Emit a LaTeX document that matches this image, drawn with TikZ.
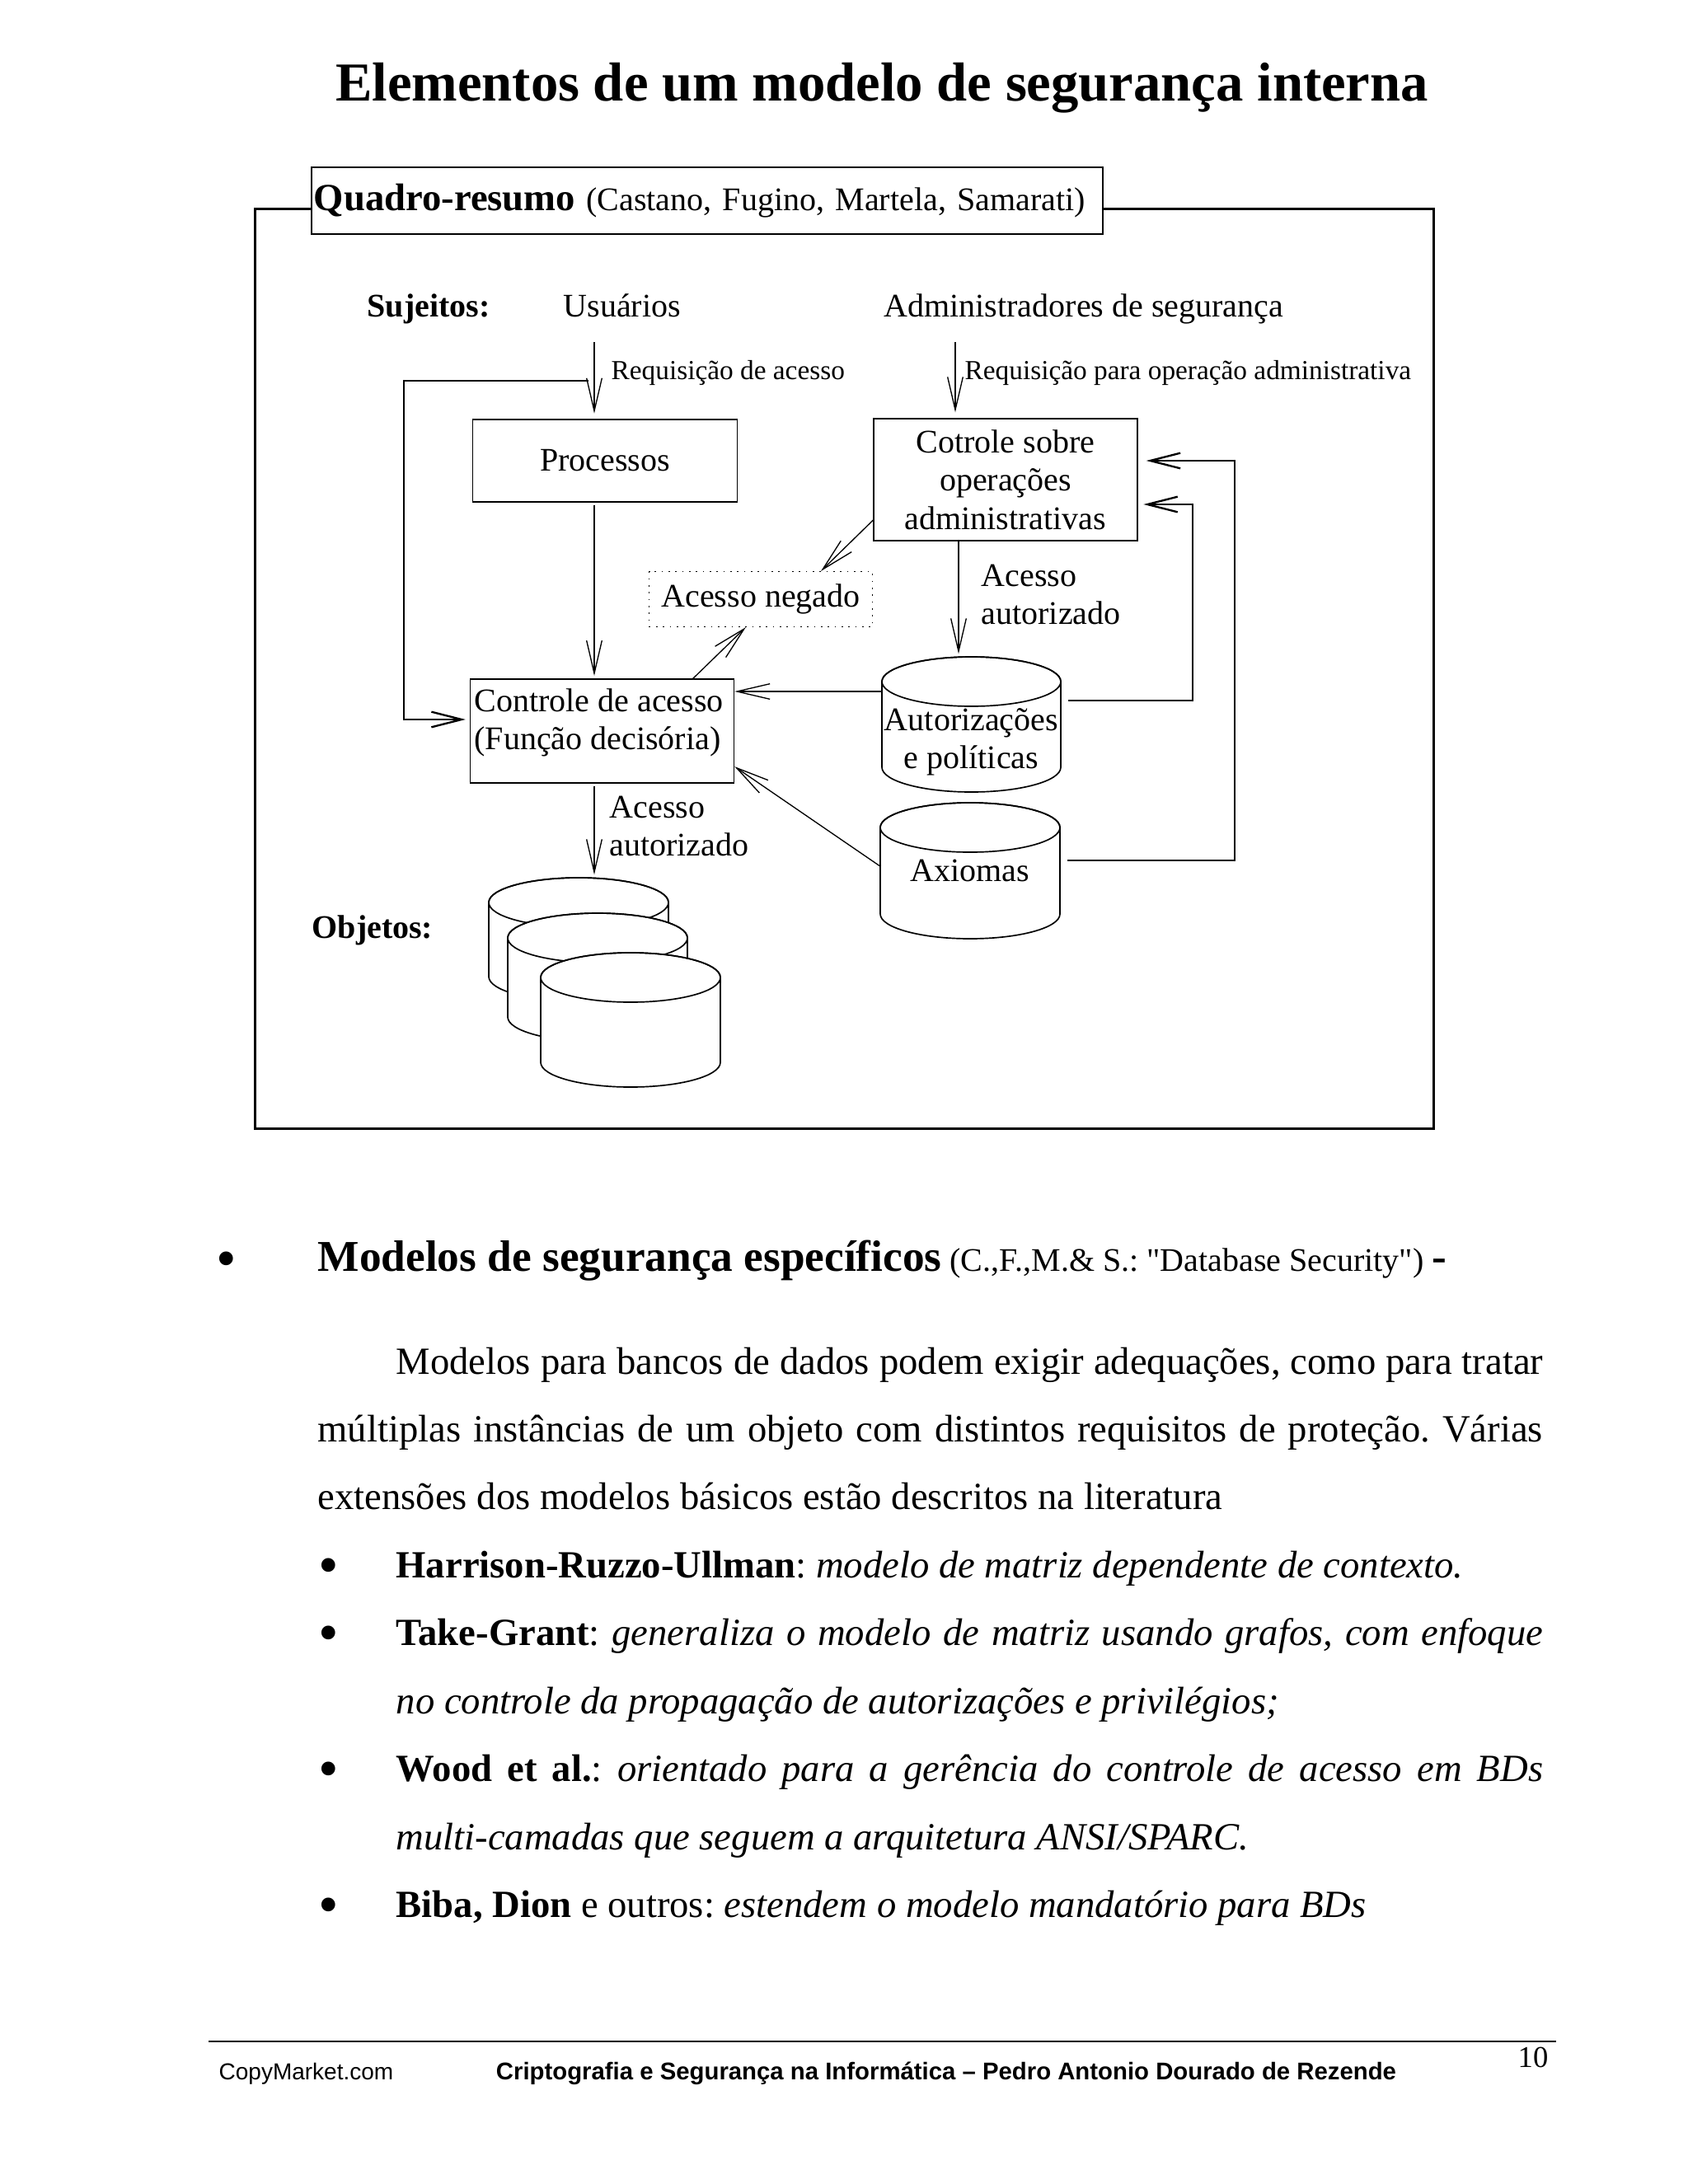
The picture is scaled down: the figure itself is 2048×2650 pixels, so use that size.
\documentclass[tikz,border=0pt]{standalone}
\usepackage{fontspec}
\setmainfont{Liberation Serif}
\newfontfamily\footfont{Liberation Sans}
\newfontfamily\qfont{Liberation Serif}
\usetikzlibrary{arrows.meta, positioning}
\newdimen\pxd \pxd=0.29883pt
\newcommand\dbcyl[5]{%
  \filldraw[cylline, fill=white] (#2-#4/2,#3) -- ++(0,#5) arc[start angle=180, end angle=0, x radius=#4/2, y radius=30] -- ++(0,-#5) arc[start angle=0, end angle=-180, x radius=#4/2, y radius=30] -- cycle;
  \draw[cylline] (#2,#3) ellipse [x radius=#4/2, y radius=30];
  \node[inner sep=0pt, minimum width=#4*\pxd, minimum height=(#5+60)*\pxd] (#1) at (#2,#3+#5/2) {};
}
\newcommand\bigbul{\raisebox{-2.4pt}{\scalebox{1.5}{\textbullet}}}

\begin{document}
\frenchspacing
\begin{tikzpicture}[x=0.010542cm, y=-0.010542cm,
                txt/.style={inner sep=0pt, font=\fontsize{12}{13.9}\selectfont},
                small/.style={inner sep=0pt, font=\fontsize{10}{12}\selectfont},
                body/.style={inner sep=0pt, anchor=base west, font=\fontsize{14}{16}\selectfont},
                box/.style={draw, line width=0.5pt, txt, align=center},
                arr/.style={line width=0.4pt, -{Straight Barb[length=12pt, width=5.6pt]}},
                fb/.style={line width=0.7pt, -{Straight Barb[length=11pt, width=5.6pt]}},
                cylline/.style={line width=0.5pt}]
                \useasboundingbox (0,0) rectangle (2048,2650);

                \node[inner sep=0pt, anchor=base, font=\fontsize{20}{24}\selectfont\bfseries] (title) at (1070,122) {Elementos de um modelo de segurança interna};

                % quadro
                \node[box, minimum width=964*\pxd, minimum height=81*\pxd, text width=10.06cm, align=left] (quad) at (858,243.5) {{\fontsize{14}{16}\selectfont\bfseries Quadro-resumo} (Castano, Fugino, Martela, Samarati)};
                \coordinate (fnw) at (309,253);
                \coordinate (fse) at (1739,1369);
                \draw[line width=0.9pt] (quad.west |- fnw) -- (fnw) |- (fse) |- (quad.east |- fnw);

                \node[txt, anchor=base west, font=\fontsize{12}{13.9}\selectfont\bfseries] (suj) at (445,384) {Sujeitos:};
                \node[txt, anchor=base west] (usu) at (683,384) {Usuários};
                \node[txt, anchor=base west] (adm) at (1072,384) {Administradores de segurança};
                \coordinate (u1) at (721,415);
                \coordinate (a1) at (1159,415);

                \node[box, minimum width=322*\pxd, minimum height=100*\pxd] (proc) at (734,559) {Processos};
                \node[box, minimum width=321*\pxd, minimum height=149*\pxd] (cot) at (1220,582) {Cotrole sobre\\operações\\administrativas};
                \node[box, dotted, line width=0.4pt, minimum width=272*\pxd, minimum height=67*\pxd] (neg) at (923,727) {Acesso negado};
                \node[box, minimum width=321*\pxd, minimum height=126*\pxd] (ctrl) at (730.5,887) {};
                \node[txt, anchor=north west, align=left] (ctrltxt) at (575,835) {Controle de acesso\\(Função decisória)};

                \draw[arr, shorten >=2pt] (u1) -- (u1 |- proc.north);
                \node[small, anchor=base west] (req) at (741,460) {Requisição de acesso};
                \draw[arr, shorten >=2pt] (a1) -- (a1 |- cot.north);
                \node[small, anchor=base west] (reqadm) at (1170,460) {Requisição para operação administrativa};

                % bases
                \dbcyl{aut}{1178.5}{827}{217}{104}
                \node[txt, align=center] (auttxt) at (1178.5,900) {Autorizações\\e políticas};
                \dbcyl{ax}{1177}{1004}{218}{105}
                \node[txt] (axtxt) at (1177,1056) {Axiomas};
                \dbcyl{obja}{702}{1095}{218}{90}
                \dbcyl{objb}{725}{1138}{218}{96}
                \dbcyl{objc}{765}{1186}{218}{103}
                \node[txt, anchor=base west, font=\fontsize{12}{13.9}\selectfont\bfseries] (obj) at (378,1138) {Objetos:};

                \draw[arr, shorten <=1pt, shorten >=1pt] (proc.south -| u1) -- (ctrl.north -| u1);
                \draw[arr] (cot.197) -- (neg.25);
                \draw[arr] (ctrl.30) -- (neg.242);
                \draw[arr, shorten >=1pt] (cot.south -| 1163,0) -- (aut.north -| 1163,0);
                \node[txt, anchor=north west, align=left] (acaut) at (1190,684) {Acesso\\autorizado};
                \draw[arr] (aut.west |- 0,839) -- (ctrl.east |- 0,839);
                \draw[arr] (ax.west |- 0,1051) -- (ctrl.-15);
                \draw[arr, shorten <=1pt, shorten >=1pt] (ctrl.south -| u1) -- (obja.north -| u1);
                \node[txt, anchor=north west, align=left] (acobj) at (739,965) {Acesso\\autorizado};

                \coordinate (fb1) at (714,462);
                \coordinate (fbend) at (490,873);
                \draw[fb, shorten >=1.5pt] (fb1) -| (fbend) -- (fbend -| ctrl.west);
                \draw[fb, shorten <=2.7pt, shorten >=2pt] (aut.east |- 0,850) -| (1447,612) -- (cot.east |- 0,612);
                \draw[fb, shorten <=2.7pt, shorten >=3pt] (ax.east |- 0,1044) -| (1498,559) -- (cot.east |- 0,559);

                % texto
                \node[body] (bul0) at (262,1542) {\bigbul};
                \node[body, font=\fontsize{12}{14}\selectfont] (head) at (385,1542) {{\fontsize{16}{18}\selectfont\bfseries Modelos de segurança específicos} {\qfont (C.,F.,M.\& S.: "Database Security")} {\fontsize{16}{18}\selectfont\bfseries -}};
                \node[body] (l1) at (480,1667) {\makebox[1397\pxd][s]{Modelos para bancos de dados podem exigir adequações, como para tratar}};
                \node[body] (l2) at (385,1749) {\makebox[1492\pxd][s]{múltiplas instâncias de um objeto com distintos requisitos de proteção. Várias}};
                \node[body] (l3) at (385,1831) {extensões dos modelos básicos estão descritos na literatura};
                \foreach \y/\n in {1914/1, 1996/2, 2161/3, 2326/4}
                  \node[body] (bul\n) at (386,\y) {\bigbul};
                \node[body] (hru) at (480,1914) {\textbf{Harrison-Ruzzo-Ullman}: \textit{modelo de matriz dependente de contexto.}};
                \node[body] (tg) at (480,1996) {\makebox[1397\pxd][s]{\textbf{Take-Grant}: \textit{generaliza o modelo de matriz usando grafos, com enfoque}}};
                \node[body] (tgb) at (480,2079) {\textit{no controle da propagação de autorizações e privilégios;}};
                \node[body] (wood) at (480,2161) {\makebox[1397\pxd][s]{\textbf{Wood et al.}: \textit{orientado para a gerência do controle de acesso em BDs}}};
                \node[body] (woodb) at (480,2244) {\textit{multi-camadas que seguem a arquitetura ANSI/SPARC.}};
                \node[body] (biba) at (480,2326) {\textbf{Biba, Dion} e outros: \textit{estendem o modelo mandatório para BDs}};

                % rodape
                \draw[line width=0.8pt] (253,2477) -- (1888,2477);
                \node[inner sep=0pt, anchor=west, font=\footfont\fontsize{8.4}{10}\selectfont] (copy) at (265,2516) {CopyMarket.com};
                \node[inner sep=0pt, font=\footfont\bfseries\fontsize{8.8}{10}\selectfont] (foot) at (1148,2516) {Criptografia e Segurança na Informática – Pedro Antonio Dourado de Rezende};
                \node[inner sep=0pt, font=\fontsize{11}{13}\selectfont] (pg) at (1860,2496) {10};
                \end{tikzpicture}
\end{document}
